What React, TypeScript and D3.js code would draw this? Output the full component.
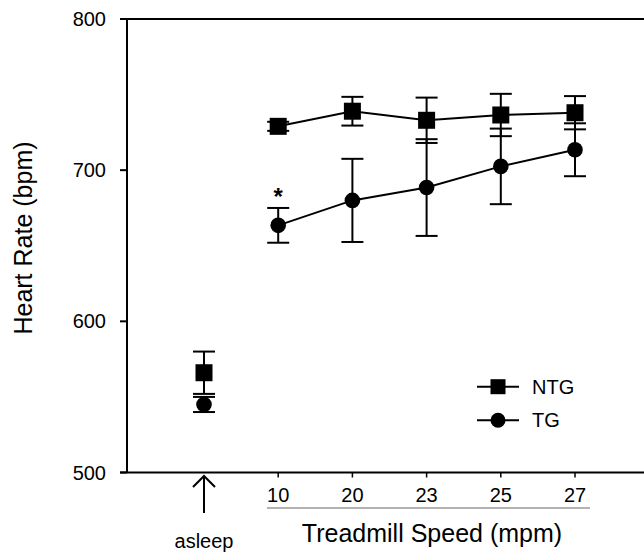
import * as d3 from "d3";
import { useRef, useEffect } from "react";

// categories on the x axis (first one is the resting "asleep" value)
const categories = ["asleep", "10", "20", "23", "25", "27"];
const speedTicks = ["10", "20", "23", "25", "27"];

// heart rate means and error (bpm)
const ntgMean = [566, 729, 739, 733, 736.5, 738];
const ntgErr = [14, 3, 9.5, 15, 14, 11];
const tgMean = [545, 663.5, 680, 688.5, 702.5, 713.5];
const tgErr = [5, 11.5, 27.5, 32, 25, 17.5];

const yTicks = [500, 600, 700, 800];
const seriesNames = ["NTG", "TG"];

export default function App() {
    const ref = useRef<SVGSVGElement>(null);

    const width = 644;
    const height = 552;
    const axisX = 127;
    const top = 19;
    const bottom = 472.5;
    const font = "'Liberation Sans', Arial, Helvetica, sans-serif";

    useEffect(() => {
        const svg = d3.select(ref.current);
        svg.selectAll("*").remove();

        const x = d3.scalePoint()
            .domain(categories)
            .range([204, 575]);

        const y = d3.scaleLinear()
            .domain([500, 800])
            .range([bottom, top]);

        // frame: left axis, top line, bottom axis
        svg.append("line")
            .attr("x1", axisX).attr("x2", axisX)
            .attr("y1", top).attr("y2", bottom)
            .attr("stroke", "#000").attr("stroke-width", 2);
        svg.append("line")
            .attr("x1", 120).attr("x2", width)
            .attr("y1", top).attr("y2", top)
            .attr("stroke", "#000").attr("stroke-width", 2);
        svg.append("line")
            .attr("x1", 120).attr("x2", width)
            .attr("y1", bottom).attr("y2", bottom)
            .attr("stroke", "#000").attr("stroke-width", 2);

        // y ticks
        const yAxis = svg.append("g");
        yAxis.selectAll("line")
            .data(yTicks)
            .join("line")
                .attr("x1", 120).attr("x2", axisX)
                .attr("y1", d => y(d)).attr("y2", d => y(d))
                .attr("stroke", "#000").attr("stroke-width", 2);
        yAxis.selectAll("text")
            .data(yTicks)
            .join("text")
                .attr("x", 106)
                .attr("y", d => y(d) + 7)
                .attr("text-anchor", "end")
                .attr("font-family", font)
                .attr("font-size", 20)
                .text(d => d);

        svg.append("text")
            .attr("transform", `translate(32,238) rotate(-90)`)
            .attr("text-anchor", "middle")
            .attr("font-family", font)
            .attr("font-size", 25)
            .text("Heart Rate (bpm)");

        // x ticks
        const xAxis = svg.append("g");
        xAxis.selectAll("line")
            .data(speedTicks)
            .join("line")
                .attr("x1", d => x(d)!).attr("x2", d => x(d)!)
                .attr("y1", bottom).attr("y2", bottom + 5)
                .attr("stroke", "#000").attr("stroke-width", 1.5);
        xAxis.selectAll("text")
            .data(speedTicks)
            .join("text")
                .attr("x", d => x(d)!)
                .attr("y", 501.5)
                .attr("text-anchor", "middle")
                .attr("font-family", font)
                .attr("font-size", 20)
                .text(d => d);

        svg.append("line")
            .attr("x1", 267).attr("x2", 590)
            .attr("y1", 508).attr("y2", 508)
            .attr("stroke", "#999").attr("stroke-width", 1.5);

        svg.append("text")
            .attr("x", 432).attr("y", 541.5)
            .attr("text-anchor", "middle")
            .attr("font-family", font)
            .attr("font-size", 25)
            .text("Treadmill Speed (mpm)");

        // asleep arrow
        const ax = x("asleep")!;
        svg.append("line")
            .attr("x1", ax).attr("x2", ax)
            .attr("y1", 476).attr("y2", 513)
            .attr("stroke", "#000").attr("stroke-width", 2);
        svg.append("path")
            .attr("d", `M${ax - 11},${487} L${ax},${476} L${ax + 11},${487}`)
            .attr("fill", "none")
            .attr("stroke", "#000").attr("stroke-width", 2);
        svg.append("text")
            .attr("x", ax).attr("y", 548)
            .attr("text-anchor", "middle")
            .attr("font-family", font)
            .attr("font-size", 20)
            .text("asleep");

        const capW = 11;
        const series = [
            { name: "NTG", mean: ntgMean, err: ntgErr, shape: "square" },
            { name: "TG", mean: tgMean, err: tgErr, shape: "circle" },
        ];

        const line = d3.line<number>()
            .x((d, i) => x(categories[i + 1])!)
            .y(d => y(d));

        series.forEach(s => {
            const g = svg.append("g");
            const rows = categories.map((c, i) => ({ c, m: s.mean[i], e: s.err[i] }));

            // error bars
            g.selectAll("line.stem")
                .data(rows)
                .join("line")
                    .attr("class", "stem")
                    .attr("x1", d => x(d.c)!).attr("x2", d => x(d.c)!)
                    .attr("y1", d => y(d.m + d.e)).attr("y2", d => y(d.m - d.e))
                    .attr("stroke", "#000").attr("stroke-width", 2);
            [1, -1].forEach(sign => {
                g.selectAll(`line.cap${sign}`)
                    .data(rows)
                    .join("line")
                        .attr("class", `cap${sign}`)
                        .attr("x1", d => x(d.c)! - capW).attr("x2", d => x(d.c)! + capW)
                        .attr("y1", d => y(d.m + sign * d.e)).attr("y2", d => y(d.m + sign * d.e))
                        .attr("stroke", "#000").attr("stroke-width", 2);
            });

            // connecting line (speeds only)
            g.append("path")
                .attr("d", line(s.mean.slice(1)))
                .attr("fill", "none")
                .attr("stroke", "#000").attr("stroke-width", 2);

            if (s.shape === "square") {
                g.selectAll("rect")
                    .data(rows)
                    .join("rect")
                        .attr("x", d => x(d.c)! - 8.5)
                        .attr("y", d => y(d.m) - 8.5)
                        .attr("width", 17).attr("height", 17)
                        .attr("fill", "#000");
            } else {
                g.selectAll("circle")
                    .data(rows)
                    .join("circle")
                        .attr("cx", d => x(d.c)!)
                        .attr("cy", d => y(d.m))
                        .attr("r", 7.8)
                        .attr("fill", "#000");
            }
        });

        // significance marker on TG at 10 mpm
        svg.append("text")
            .attr("x", x("10")!)
            .attr("y", y(tgMean[1] + tgErr[1]) - 3)
            .attr("text-anchor", "middle")
            .attr("font-family", font)
            .attr("font-weight", "bold")
            .attr("font-size", 24)
            .attr("fill", "#000")
            .text("*");

        // legend
        const legend = svg.append("g");
        seriesNames.forEach((name, i) => {
            const ly = 386.7 + i * 33.5;
            legend.append("line")
                .attr("x1", 477).attr("x2", 519)
                .attr("y1", ly).attr("y2", ly)
                .attr("stroke", "#000").attr("stroke-width", 2);
            if (i === 0) {
                legend.append("rect")
                    .attr("x", 490.5).attr("y", ly - 7.5)
                    .attr("width", 15).attr("height", 15)
                    .attr("fill", "#000");
            } else {
                legend.append("circle")
                    .attr("cx", 498).attr("cy", ly)
                    .attr("r", 7.5)
                    .attr("fill", "#000");
            }
            legend.append("text")
                .attr("x", 532).attr("y", ly + 7)
                .attr("font-family", font)
                .attr("font-size", 20)
                .text(name);
        });
    }, []);

    return (
        <svg
            ref={ref}
            width={width}
            height={height}
            style={{ position: "absolute", left: 0, top: 0, background: "#fff" }}
        />
    );
}
